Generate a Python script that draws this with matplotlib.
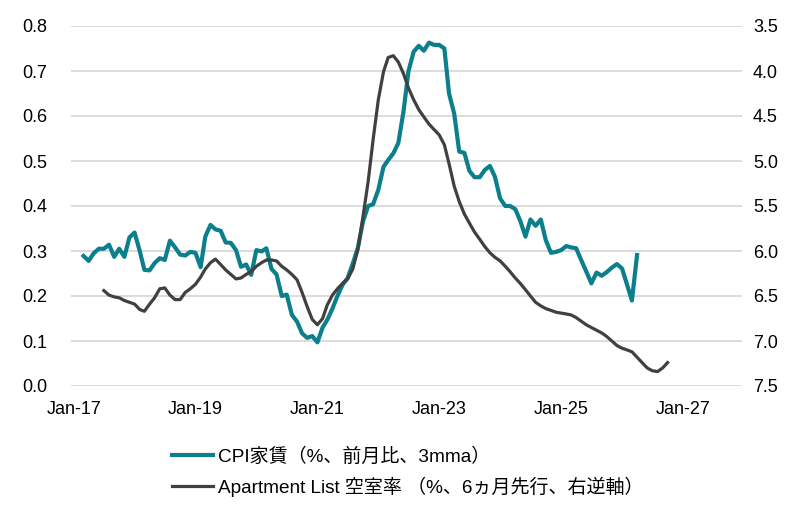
import matplotlib
matplotlib.use("Agg")
import matplotlib.pyplot as plt
import matplotlib.dates as mdates
from matplotlib.ticker import FormatStrFormatter
from matplotlib.lines import Line2D
import pandas as pd

# ---- data ----
cpi_start = "2017-03-01"
cpi_rent = [
    0.289, 0.278, 0.295, 0.305, 0.305, 0.314, 0.287, 0.305, 0.287, 0.330,
    0.341, 0.300, 0.258, 0.257, 0.273, 0.284, 0.280, 0.323, 0.308, 0.292,
    0.290, 0.298, 0.296, 0.264, 0.332, 0.358, 0.348, 0.345, 0.319, 0.318,
    0.302, 0.265, 0.270, 0.247, 0.302, 0.299, 0.306, 0.260, 0.248, 0.200,
    0.203, 0.158, 0.143, 0.117, 0.107, 0.111, 0.097, 0.130, 0.147, 0.172,
    0.200, 0.225, 0.240, 0.272, 0.308, 0.365, 0.400, 0.404, 0.436, 0.487,
    0.502, 0.517, 0.540, 0.610, 0.700, 0.743, 0.756, 0.745, 0.763, 0.758,
    0.758, 0.750, 0.650, 0.605, 0.521, 0.518, 0.478, 0.464, 0.464, 0.480,
    0.489, 0.465, 0.417, 0.400, 0.400, 0.393, 0.367, 0.332, 0.370, 0.356,
    0.370, 0.324, 0.296, 0.298, 0.302, 0.311, 0.308, 0.306, 0.280, 0.254,
    0.228, 0.252, 0.245, 0.253, 0.263, 0.271, 0.261, 0.224, 0.190, 0.291,
]
apt_start = "2017-07-01"
apt_vacancy = [
    6.44, 6.49, 6.51, 6.52, 6.55, 6.57, 6.59, 6.65, 6.67, 6.59,
    6.52, 6.42, 6.41, 6.49, 6.54, 6.54, 6.46, 6.42, 6.37, 6.29,
    6.20, 6.13, 6.09, 6.15, 6.21, 6.26, 6.31, 6.30, 6.26, 6.23,
    6.17, 6.13, 6.10, 6.10, 6.11, 6.17, 6.21, 6.26, 6.32, 6.46,
    6.62, 6.76, 6.82, 6.75, 6.60, 6.49, 6.42, 6.36, 6.31, 6.20,
    5.98, 5.62, 5.23, 4.76, 4.32, 4.01, 3.85, 3.83, 3.90, 4.03,
    4.19, 4.32, 4.43, 4.51, 4.59, 4.65, 4.71, 4.82, 5.03, 5.28,
    5.45, 5.59, 5.69, 5.79, 5.87, 5.95, 6.02, 6.07, 6.11, 6.17,
    6.23, 6.30, 6.36, 6.43, 6.50, 6.57, 6.61, 6.64, 6.66, 6.68,
    6.69, 6.70, 6.71, 6.74, 6.78, 6.82, 6.85, 6.88, 6.91, 6.95,
    7.00, 7.05, 7.08, 7.10, 7.12, 7.18, 7.24, 7.30, 7.33, 7.34,
    7.30, 7.24,
]
x_ticks = ["2017-01-01", "2019-01-01", "2021-01-01", "2023-01-01", "2025-01-01", "2027-01-01"]
left_ticks = [0.0, 0.1, 0.2, 0.3, 0.4, 0.5, 0.6, 0.7, 0.8]
right_ticks = [3.5, 4.0, 4.5, 5.0, 5.5, 6.0, 6.5, 7.0, 7.5]
label_cpi = "CPI家賃（%、前月比、3mma）"
label_apt = "Apartment List 空室率 （%、6ヵ月先行、右逆軸）"

cpi_dates = pd.date_range(cpi_start, periods=len(cpi_rent), freq="MS")
apt_dates = pd.date_range(apt_start, periods=len(apt_vacancy), freq="MS")

plt.rcParams["font.family"] = ["Liberation Sans", "Noto Sans CJK JP", "DejaVu Sans"]

TEAL = "#0B7F8B"
GRAY = "#404040"
FS = 13

fig = plt.figure(figsize=(8.08, 5.05), dpi=100)
W, H = 808, 505
ax = fig.add_axes([71 / W, 1 - 386 / H, (742 - 71) / W, 360 / H])
ax2 = ax.twinx()

ax.plot(cpi_dates, cpi_rent, color=TEAL, lw=3.0, solid_joinstyle="round", zorder=3)
ax2.plot(apt_dates, apt_vacancy, color=GRAY, lw=2.3, solid_joinstyle="round", zorder=3)

ax.set_ylim(0, 0.8)
ax.set_yticks(left_ticks)
ax.yaxis.set_major_formatter(FormatStrFormatter("%.1f"))
ax2.set_ylim(7.5, 3.5)
ax2.set_yticks(right_ticks)
ax2.yaxis.set_major_formatter(FormatStrFormatter("%.1f"))

ax.set_xlim(pd.Timestamp("2016-12-16"), pd.Timestamp("2027-12-21"))
ax.set_xticks(pd.to_datetime(x_ticks))
ax.xaxis.set_major_formatter(mdates.DateFormatter("%b-%y"))

ax.grid(axis="y", color="#D9D9D9", lw=1.3)
ax.set_axisbelow(True)
for a in (ax, ax2):
    for s in a.spines.values():
        s.set_visible(False)
ax.tick_params(axis="both", length=0, labelsize=FS, colors="black")
ax.tick_params(axis="y", pad=17)
ax.tick_params(axis="x", pad=11)
ax2.tick_params(axis="y", length=0, labelsize=FS, colors="black", pad=8)

handles = [Line2D([], [], color=TEAL, lw=3.0), Line2D([], [], color=GRAY, lw=2.3)]
fig.legend(handles, [label_cpi, label_apt], loc="upper left",
           bbox_to_anchor=(172 / W, 1 - 447 / H), frameon=False,
           fontsize=13.7, handlelength=2.15, handletextpad=0.25,
           labelspacing=0.6, borderpad=0, borderaxespad=0)

fig.savefig("out.png", dpi=100)
